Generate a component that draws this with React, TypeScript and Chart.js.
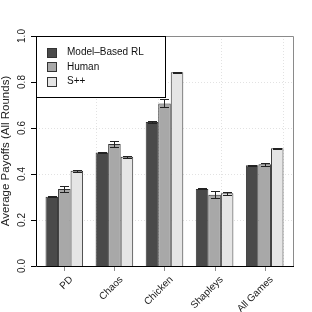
import React, { useEffect, useRef } from 'react';
import { Chart, registerables } from 'chart.js';

Chart.register(...registerables);

const categories = ['PD', 'Chaos', 'Chicken', 'Shapleys', 'All Games'];
const seriesNames = ['Model\u2013Based RL', 'Human', 'S++'];
const modelBasedRL = [0.301, 0.494, 0.626, 0.335, 0.438];
const human = [0.335, 0.53, 0.707, 0.31, 0.442];
const sPlusPlus = [0.414, 0.475, 0.842, 0.316, 0.512];
const modelBasedRLErr = [0.002, 0.003, 0.003, 0.002, 0.002];
const humanErr = [0.012, 0.012, 0.017, 0.015, 0.007];
const sPlusPlusErr = [0.004, 0.004, 0.003, 0.007, 0.002];
const yTicks = [0, 0.2, 0.4, 0.6, 0.8, 1.0];
const yTickLabels = ['0.0', '0.2', '0.4', '0.6', '0.8', '1.0'];
const xGridUnits = [5, 10, 15, 20];
const yTitle = 'Average Payoffs (All Rounds)';

const colors = ['#4a4a4a', '#a8a8a8', '#e5e5e5'];
const values = [modelBasedRL, human, sPlusPlus];
const errors = [modelBasedRLErr, humanErr, sPlusPlusErr];

// R barplot layout: each group = 1 unit space + 3 bars of 1 unit
const groupCenter = (i: number) => 2.5 + 4 * i;

const FONT = '"Liberation Sans", Arial, Helvetica, sans-serif';

const rPlugin = {
  id: 'rstyle',
  beforeDatasetsDraw(chart: any) {
    const { ctx, chartArea: a, scales } = chart;
    const x = scales.x, y = scales.y;
    ctx.save();
    ctx.strokeStyle = '#e2e2e2';
    ctx.lineWidth = 1;
    ctx.setLineDash([1, 2]);
    for (const v of yTicks.slice(1)) {
      const py = Math.round(y.getPixelForValue(v)) + 0.5;
      ctx.beginPath(); ctx.moveTo(a.left, py); ctx.lineTo(a.right, py); ctx.stroke();
    }
    for (const v of xGridUnits) {
      const px = Math.round(x.getPixelForValue(v)) + 0.5;
      ctx.beginPath(); ctx.moveTo(px, a.top); ctx.lineTo(px, a.bottom); ctx.stroke();
    }
    ctx.restore();
  },
  afterDatasetsDraw(chart: any) {
    const { ctx, chartArea: a, scales } = chart;
    const x = scales.x, y = scales.y;
    ctx.save();
    // error bars
    ctx.strokeStyle = '#222';
    ctx.lineWidth = 1;
    chart.data.datasets.forEach((ds: any, di: number) => {
      const meta = chart.getDatasetMeta(di);
      meta.data.forEach((bar: any, i: number) => {
        const v = values[di][i];
        const e = errors[di][i];
        const cx = Math.round(bar.x) + 0.5;
        const yt = Math.round(y.getPixelForValue(v + e)) + 0.5;
        const yb = Math.round(y.getPixelForValue(v - e)) + 0.5;
        const hw = 4.5;
        ctx.beginPath();
        ctx.moveTo(cx, yt); ctx.lineTo(cx, yb);
        ctx.moveTo(cx - hw, yt); ctx.lineTo(cx + hw, yt);
        ctx.moveTo(cx - hw, yb); ctx.lineTo(cx + hw, yb);
        ctx.stroke();
      });
    });
    // frame (top/right gray)
    ctx.strokeStyle = '#8a8a8a';
    ctx.beginPath();
    ctx.moveTo(a.left, a.top + 0.5); ctx.lineTo(a.right + 0.5, a.top + 0.5);
    ctx.lineTo(a.right + 0.5, a.bottom);
    ctx.stroke();
    // x tick marks
    ctx.strokeStyle = '#8a8a8a';
    categories.forEach((_, i) => {
      const px = Math.round(x.getPixelForValue(groupCenter(i))) + 0.5;
      ctx.beginPath(); ctx.moveTo(px, a.bottom); ctx.lineTo(px, a.bottom + 5); ctx.stroke();
    });
    // axes
    ctx.strokeStyle = '#000';
    ctx.beginPath();
    ctx.moveTo(a.left + 0.5, a.top); ctx.lineTo(a.left + 0.5, a.bottom + 0.5);
    ctx.lineTo(a.right + 1, a.bottom + 0.5);
    ctx.stroke();
    yTicks.forEach((v) => {
      const py = Math.round(y.getPixelForValue(v)) + 0.5;
      ctx.beginPath(); ctx.moveTo(a.left - 5, py); ctx.lineTo(a.left, py); ctx.stroke();
    });
    // y tick labels
    ctx.fillStyle = '#222';
    ctx.font = `10px ${FONT}`;
    ctx.textAlign = 'center';
    ctx.textBaseline = 'middle';
    yTicks.forEach((v, i) => {
      const py = y.getPixelForValue(v);
      ctx.save(); ctx.translate(a.left - 14, py); ctx.rotate(-Math.PI / 2);
      ctx.fillText(yTickLabels[i], 0, 0); ctx.restore();
    });
    // y title
    ctx.font = `11.5px ${FONT}`;
    ctx.save(); ctx.translate(6, (a.top + a.bottom) / 2); ctx.rotate(-Math.PI / 2);
    ctx.fillText(yTitle, 0, 0); ctx.restore();
    // x labels rotated 45
    ctx.font = `10px ${FONT}`;
    ctx.textAlign = 'right';
    ctx.textBaseline = 'middle';
    categories.forEach((c, i) => {
      const px = x.getPixelForValue(groupCenter(i));
      ctx.save(); ctx.translate(px + 7, a.bottom + 12); ctx.rotate(-Math.PI / 4);
      ctx.fillText(c, 0, 0); ctx.restore();
    });
    // legend
    const lx0 = a.left + 0.5, ly0 = a.top + 0.5, lw = 129, lh = 61;
    ctx.fillStyle = '#fff';
    ctx.fillRect(lx0, ly0, lw, lh);
    ctx.strokeStyle = '#000';
    ctx.strokeRect(lx0, ly0, lw, lh);
    ctx.font = `10px ${FONT}`;
    ctx.textAlign = 'left';
    ctx.textBaseline = 'middle';
    seriesNames.forEach((n, i) => {
      const cy = a.top + 16.5 + i * 14.3;
      ctx.fillStyle = colors[i];
      ctx.fillRect(a.left + 11.5, Math.round(cy - 4.5) + 0.5, 9, 9);
      ctx.strokeStyle = '#333';
      ctx.strokeRect(a.left + 11.5, Math.round(cy - 4.5) + 0.5, 9, 9);
      ctx.fillStyle = '#111';
      ctx.fillText(n, a.left + 31, cy);
    });
    ctx.restore();
  },
};

export default function App() {
  const ref = useRef<HTMLCanvasElement>(null);
  useEffect(() => {
    if (!ref.current) return;
    const chart = new Chart(ref.current, {
      type: 'bar',
      data: {
        datasets: seriesNames.map((name, di) => ({
          label: name,
          data: values[di].map((v, i) => ({ x: groupCenter(i), y: v })),
          backgroundColor: colors[di],
          borderColor: '#333',
          borderWidth: 1,
          categoryPercentage: 0.75,
          barPercentage: 1.0,
        })),
      },
      options: {
        responsive: false,
        animation: false,
        events: [],
        layout: { padding: { left: 36, top: 36, right: 19, bottom: 46 } },
        plugins: { legend: { display: false }, tooltip: { enabled: false } },
        scales: {
          x: {
            type: 'linear',
            display: false,
            offset: false,
            grid: { offset: false },
            min: 0.24,
            max: 20.76,
            afterBuildTicks: (s: any) => {
              s.ticks = categories.map((_, i) => ({ value: groupCenter(i) }));
            },
          },
          y: { display: false, min: 0, max: 1 },
        },
      },
      plugins: [rPlugin],
    } as any);
    return () => chart.destroy();
  }, []);
  return (
    <div style={{ position: 'absolute', left: 0, top: 0, width: 312, height: 312, background: '#fff' }}>
      <canvas ref={ref} width={312} height={312} style={{ width: 312, height: 312 }} />
    </div>
  );
}
